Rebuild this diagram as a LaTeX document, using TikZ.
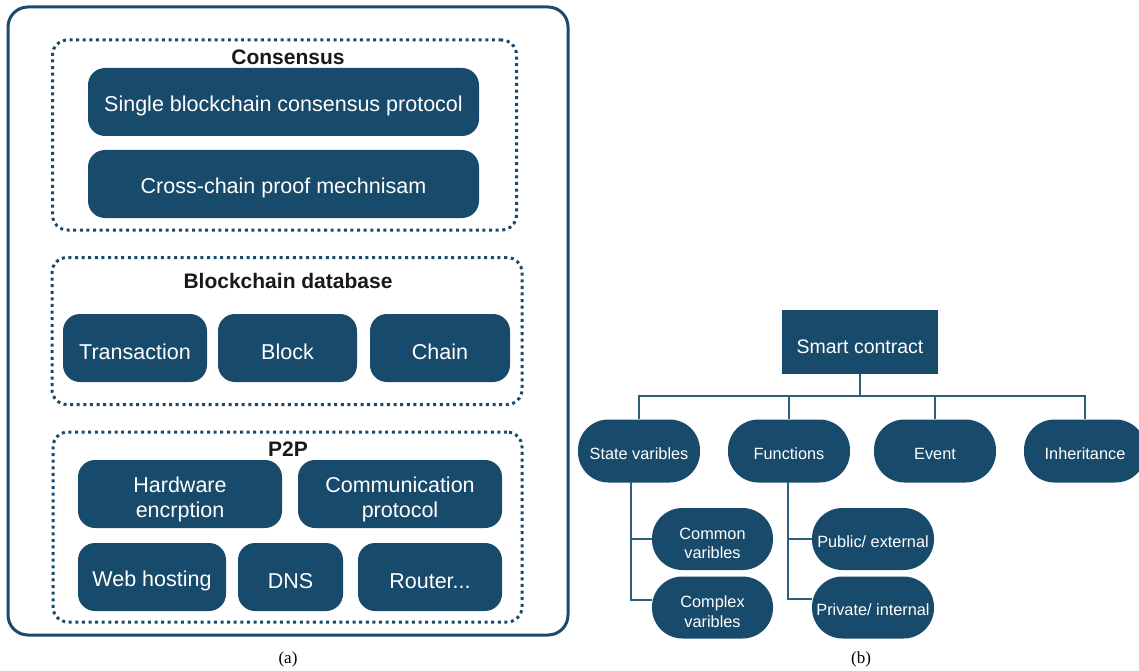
\documentclass[tikz,border=0pt]{standalone}
\usepackage{fontspec}
\setmainfont{Liberation Sans}
\newfontfamily\capfont{Liberation Serif}
\definecolor{mainblue}{RGB}{24,75,107}
\definecolor{linkblue}{RGB}{45,95,125}
\definecolor{titlecol}{RGB}{25,25,25}
\newcommand{\upstrut}[1]{\rule{0pt}{#1}}
\begin{document}
\begin{tikzpicture}[x=1pt,y=-1pt,
  box/.style={rectangle, rounded corners=17pt, fill=mainblue, text=white, font=\fontsize{21.5}{25.5}\selectfont, align=center, inner sep=0pt, execute at begin node={\rule{0pt}{23pt}}},
  pill/.style={rectangle, rounded corners=30.5pt, fill=mainblue, text=white, font=\fontsize{16.3}{19.5}\selectfont, align=center, inner sep=0pt, minimum width=122pt, minimum height=62pt, execute at begin node={\rule{0pt}{17pt}}},
  grp/.style={rectangle, draw=mainblue, line width=3pt, dash pattern=on 3pt off 3.6pt, rounded corners=15pt, inner sep=0pt},
  grptitle/.style={font=\bfseries\fontsize{21}{25}\selectfont, text=titlecol, inner sep=0pt},
  link/.style={draw=linkblue, line width=1.3pt},
  captxt/.style={font=\capfont\fontsize{17}{20}\selectfont, inner sep=0pt}
]
\useasboundingbox (0,0) rectangle (1139,671);

% ---------- (a) ----------
\node[rectangle, draw=mainblue, line width=3pt, rounded corners=20pt, minimum width=560pt, minimum height=628pt, inner sep=0pt] (outer) at (288,321) {};

\node[grp, minimum width=464pt, minimum height=190pt] (cons) at (284.5,135) {};
\node[grptitle] (constitle) at (288,57) {Consensus};
\node[box, minimum width=391pt, minimum height=68pt] (single) at (283.5,102) {Single blockchain consensus protocol};
\node[box, minimum width=391pt, minimum height=68pt] (cross) at (283.5,184) {Cross-chain proof mechnisam};

\node[grp, minimum width=470pt, minimum height=147pt] (db) at (287,331) {};
\node[grptitle] (dbtitle) at (288,281) {Blockchain database};
\node[box, minimum width=144pt, minimum height=68pt] (trans) at (135,348) {Transaction};
\node[box, minimum width=139pt, minimum height=68pt] (block) at (287.5,348) {Block};
\node[box, minimum width=140pt, minimum height=68pt] (chain) at (440,348) {Chain};

\node[grp, minimum width=469pt, minimum height=190pt] (p2p) at (287.5,527) {};
\node[grptitle] (p2ptitle) at (288,449) {P2P};
\node[box, minimum width=204pt, minimum height=68pt] (hw) at (180,494) {\upstrut{26pt}Hardware\\encrption};
\node[box, minimum width=204pt, minimum height=68pt] (comm) at (400,494) {\upstrut{26pt}Communication\\protocol};
\node[box, minimum width=148pt, minimum height=68pt] (web) at (152,577) {Web hosting};
\node[box, minimum width=105pt, minimum height=68pt] (dns) at (290.5,577) {DNS};
\node[box, minimum width=144pt, minimum height=68pt] (router) at (430,577) {Router...};

\node[captxt] (capa) at (288,659) {(a)};

% ---------- (b) ----------
\node[rectangle, fill=mainblue, text=white, font=\fontsize{19.5}{23}\selectfont, minimum width=156pt, minimum height=64pt, inner sep=0pt, execute at begin node={\rule{0pt}{23pt}}] (smart) at (860,342) {Smart contract};

\node[pill, minimum height=63pt] (sv) at (639,451) {State varibles};
\node[pill, minimum height=63pt] (fn) at (789,451) {Functions};
\node[pill, minimum height=63pt] (ev) at (935,451) {Event};
\node[pill, minimum height=63pt] (inh) at (1085,451) {Inheritance};

\node[pill, minimum width=121pt] (cmv) at (712.5,539) {\upstrut{20pt}Common\\varibles};
\node[pill, minimum width=121pt] (cxv) at (712.5,607.5) {\upstrut{20pt}Complex\\varibles};
\node[pill] (pub) at (873,539) {Public/ external};
\node[pill] (priv) at (873,607.5) {Private/ internal};

\coordinate (bus) at (860,396);
\draw[link] (smart.south) -- (bus);
\draw[link] (sv.north) -- (sv.north |- bus) -- (inh.north |- bus) -- (inh.north);
\draw[link] (fn.north) -- (fn.north |- bus);
\draw[link] (ev.north) -- (ev.north |- bus);

\coordinate (svtop) at (631,482);
\coordinate (svbot) at (631,600);
\draw[link] (svtop) -- (svbot) -- (svbot -| cxv.west);
\draw[link] (svtop |- cmv.west) -- (cmv.west);

\coordinate (fntop) at (788,482);
\coordinate (fnbot) at (788,599);
\draw[link] (fntop) -- (fnbot) -- (fnbot -| priv.west);
\draw[link] (fntop |- pub.west) -- (pub.west);

\node[captxt] (capb) at (861,659) {(b)};
\end{tikzpicture}
\end{document}
